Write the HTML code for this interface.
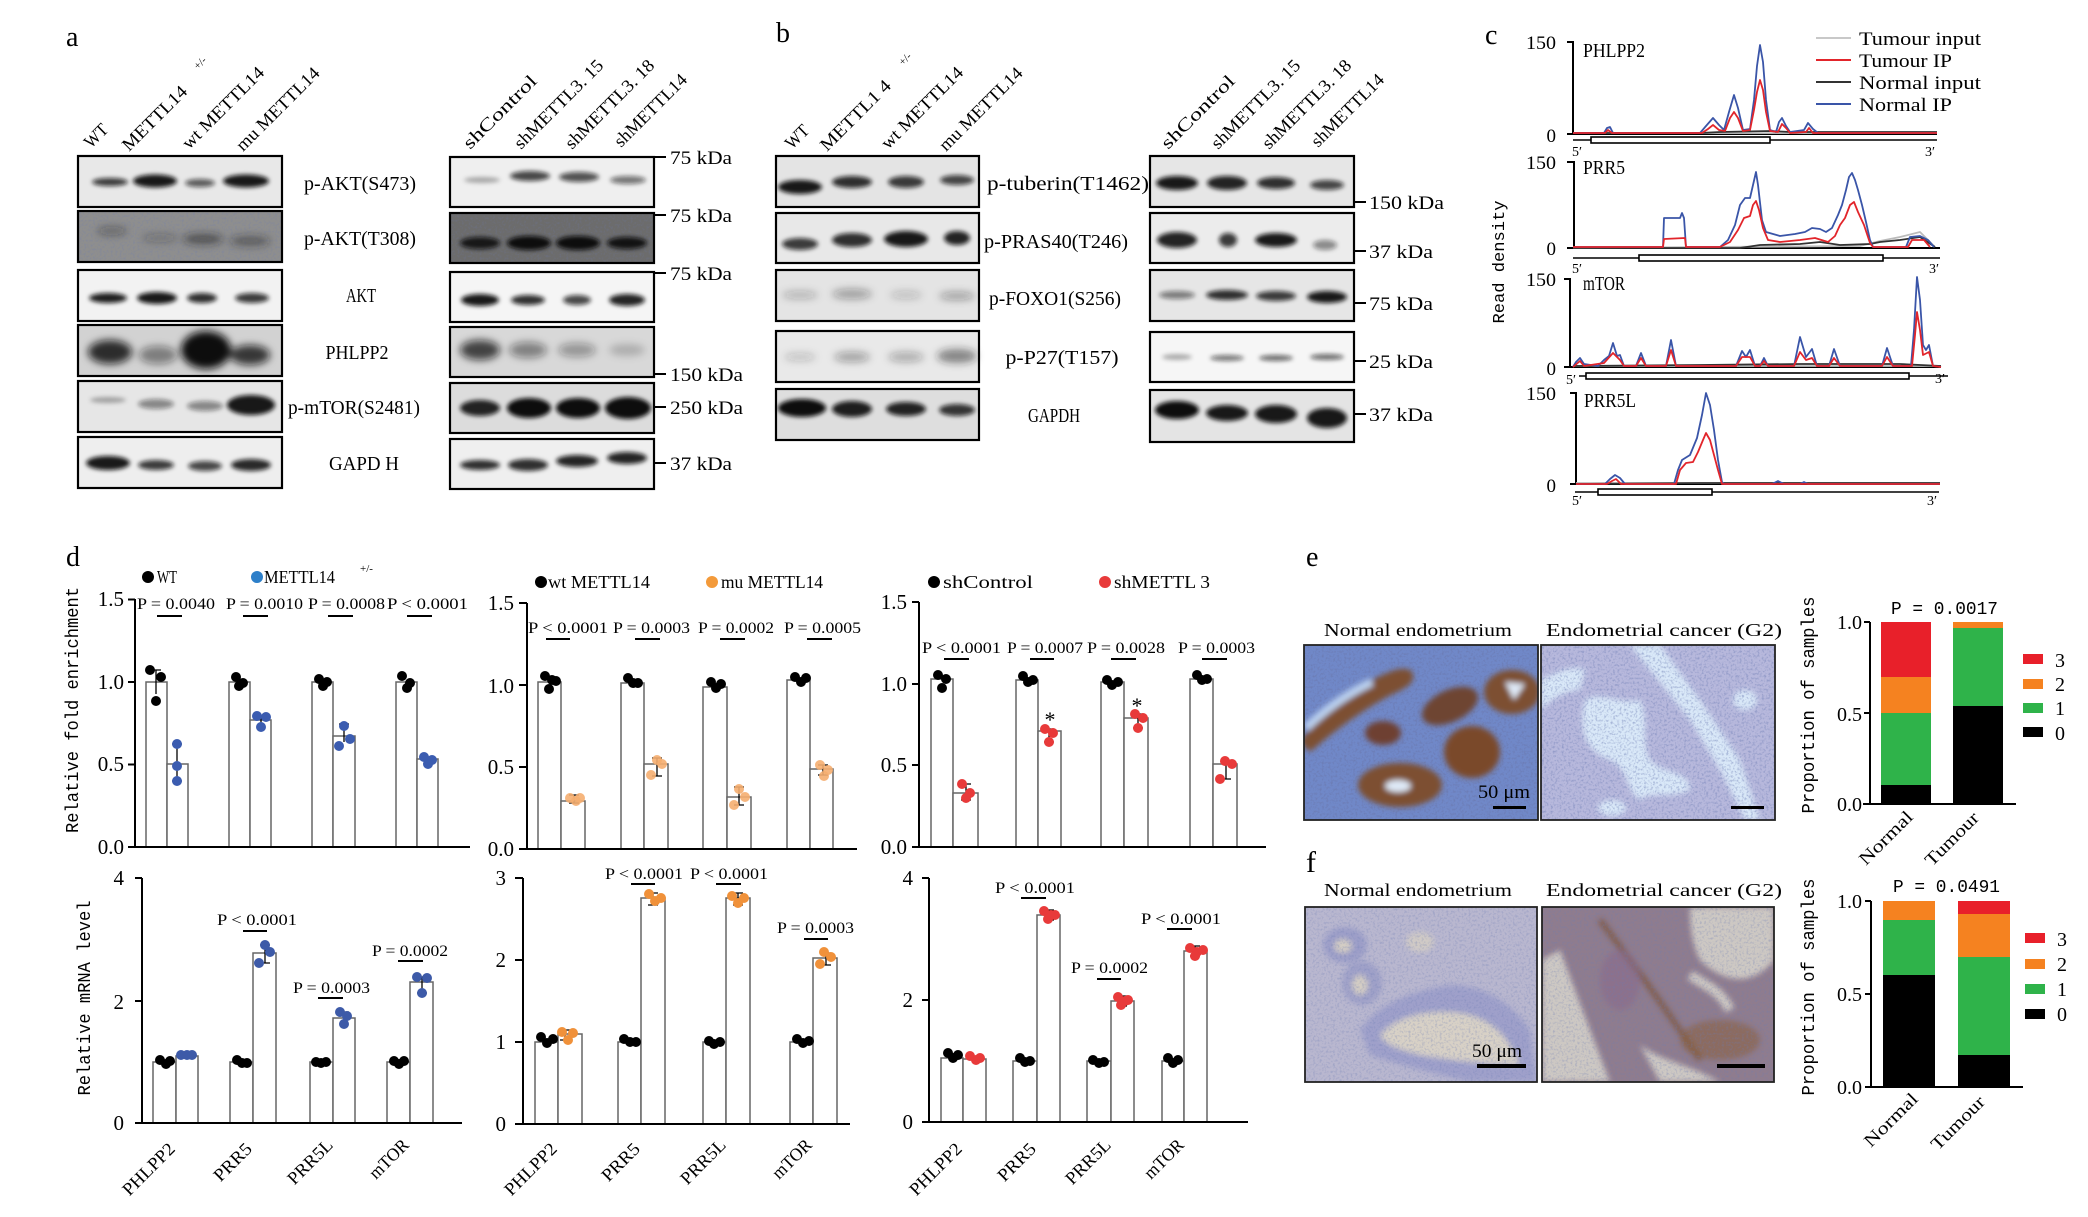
<!DOCTYPE html>
<html><head><meta charset="utf-8">
<style>
html,body{margin:0;padding:0;background:#fff;}
svg{display:block;}
text{font-family:"Liberation Serif","Noto Serif CJK SC",serif;fill:#000;}
.m{font-family:"Liberation Mono","Noto Sans CJK SC",monospace;}
</style></head>
<body>
<svg width="2088" height="1217" viewBox="0 0 2088 1217" xmlns="http://www.w3.org/2000/svg">
<defs>
<filter id="b2" x="-50%" y="-150%" width="200%" height="400%"><feGaussianBlur stdDeviation="2.2"/></filter>
<filter id="b4" x="-50%" y="-150%" width="200%" height="400%"><feGaussianBlur stdDeviation="4"/></filter>
<filter id="h3" x="-20%" y="-20%" width="140%" height="140%"><feGaussianBlur stdDeviation="3"/></filter>
<filter id="nz" x="0" y="0" width="100%" height="100%"><feTurbulence type="fractalNoise" baseFrequency="0.45" numOctaves="2" seed="7"/><feColorMatrix type="matrix" values="0 0 0 0 0.15 0 0 0 0 0.2 0 0 0 0 0.45 0 0 0 -3 1.6"/></filter>
<clipPath id="cL1"><rect x="78" y="156" width="204" height="332"/></clipPath>
</defs>
<rect width="2088" height="1217" fill="#fff"/>

<!-- ===== Panel letters ===== -->
<text x="66" y="46" font-size="28">a</text>
<text x="776" y="42" font-size="28">b</text>
<text x="1485" y="44" font-size="28">c</text>
<text x="66" y="566" font-size="28">d</text>
<text x="1306" y="566" font-size="28">e</text>
<text x="1306" y="872" font-size="30">f</text>

<!-- ===== Panel a lane labels ===== -->
<g font-size="18">
<text transform="translate(91,149) rotate(-45)" textLength="26" lengthAdjust="spacingAndGlyphs">WT</text>
<text transform="translate(129,152) rotate(-45)" textLength="84" lengthAdjust="spacingAndGlyphs">METTL14</text>
<text transform="translate(198,70) rotate(-45)" font-size="11">+/-</text>
<text transform="translate(189,150) rotate(-45)" textLength="108" lengthAdjust="spacingAndGlyphs">wt METTL14</text>
<text transform="translate(243,152) rotate(-45)" textLength="110" lengthAdjust="spacingAndGlyphs">mu METTL14</text>
<text transform="translate(470,150) rotate(-45)" textLength="96" lengthAdjust="spacingAndGlyphs">shControl</text>
<text transform="translate(521,150) rotate(-45)" textLength="118" lengthAdjust="spacingAndGlyphs">shMETTL3. 15</text>
<text transform="translate(572,150) rotate(-45)" textLength="118" lengthAdjust="spacingAndGlyphs">shMETTL3. 18</text>
<text transform="translate(621,148) rotate(-45)" textLength="95" lengthAdjust="spacingAndGlyphs">shMETTL14</text>
</g>

<!-- ===== Panel a left blots ===== -->
<g>
<rect x="78" y="156" width="204" height="51" fill="#e8e8e8"/>
<g filter="url(#b2)" fill="#111">
<ellipse cx="110" cy="182" rx="18" ry="4" opacity=".8"/><ellipse cx="155" cy="181" rx="22" ry="6.5" opacity=".95"/><ellipse cx="200" cy="183" rx="15" ry="4" opacity=".65"/><ellipse cx="246" cy="181" rx="23" ry="6.5" opacity=".95"/>
</g>
<rect x="78" y="211" width="204" height="51" fill="#8e8e8e"/>
<rect x="78" y="211" width="204" height="51" filter="url(#nz)" opacity=".25"/>
<g filter="url(#b4)" fill="#222">
<ellipse cx="112" cy="231" rx="15" ry="4" opacity=".35"/><ellipse cx="160" cy="238" rx="18" ry="4" opacity=".25"/><ellipse cx="203" cy="239" rx="20" ry="5" opacity=".55"/><ellipse cx="250" cy="241" rx="20" ry="5" opacity=".45"/>
</g>
<rect x="78" y="270" width="204" height="51" fill="#f2f2f2"/>
<g filter="url(#b2)" fill="#111">
<ellipse cx="108" cy="298" rx="19" ry="5" opacity=".92"/><ellipse cx="157" cy="298" rx="20" ry="6" opacity=".95"/><ellipse cx="202" cy="298" rx="15" ry="5" opacity=".85"/><ellipse cx="252" cy="298" rx="17" ry="5" opacity=".8"/>
</g>
<rect x="78" y="325" width="204" height="51" fill="#d2d2d2"/>
<g clip-path="url(#cL1)">
<g filter="url(#b4)" fill="#111">
<ellipse cx="110" cy="352" rx="22" ry="12" opacity=".85"/><ellipse cx="158" cy="355" rx="19" ry="9" opacity=".45"/><ellipse cx="206" cy="350" rx="25" ry="19" opacity="1"/><ellipse cx="250" cy="355" rx="20" ry="10" opacity=".8"/>
</g></g>
<rect x="78" y="381" width="204" height="51" fill="#e6e6e6"/>
<g filter="url(#b2)" fill="#111">
<ellipse cx="108" cy="400" rx="18" ry="3" opacity=".3"/><ellipse cx="156" cy="404" rx="18" ry="5" opacity=".45"/><ellipse cx="205" cy="406" rx="18" ry="5" opacity=".45"/><ellipse cx="251" cy="405" rx="24" ry="10" opacity=".95"/>
</g>
<rect x="78" y="437" width="204" height="51" fill="#eeeeee"/>
<g filter="url(#b2)" fill="#111">
<ellipse cx="108" cy="463" rx="22" ry="7" opacity=".95"/><ellipse cx="156" cy="465" rx="18" ry="5" opacity=".8"/><ellipse cx="205" cy="466" rx="17" ry="5" opacity=".75"/><ellipse cx="251" cy="465" rx="20" ry="6" opacity=".88"/>
</g>
<g fill="none" stroke="#000" stroke-width="2.2">
<rect x="78" y="156" width="204" height="51"/><rect x="78" y="211" width="204" height="51"/><rect x="78" y="270" width="204" height="51"/><rect x="78" y="325" width="204" height="51"/><rect x="78" y="381" width="204" height="51"/><rect x="78" y="437" width="204" height="51"/>
</g>
</g>

<!-- a labels -->
<g font-size="20" text-anchor="middle">
<text x="360" y="190" textLength="112" lengthAdjust="spacingAndGlyphs">p-AKT(S473)</text>
<text x="360" y="245" textLength="112" lengthAdjust="spacingAndGlyphs">p-AKT(T308)</text>
<text x="361" y="302" textLength="30" lengthAdjust="spacingAndGlyphs">AKT</text>
<text x="357" y="359" textLength="63" lengthAdjust="spacingAndGlyphs">PHLPP2</text>
<text x="354" y="414" textLength="132" lengthAdjust="spacingAndGlyphs">p-mTOR(S2481)</text>
<text x="364" y="470" textLength="70" lengthAdjust="spacingAndGlyphs">GAPD  H</text>
</g>

<!-- ===== Panel a right blots ===== -->
<g>
<rect x="450" y="157" width="204" height="50" fill="#efefef"/>
<g filter="url(#b2)" fill="#111">
<ellipse cx="482" cy="180" rx="18" ry="3" opacity=".3"/><ellipse cx="530" cy="176" rx="20" ry="5" opacity=".75"/><ellipse cx="579" cy="177" rx="20" ry="5" opacity=".7"/><ellipse cx="628" cy="180" rx="18" ry="4" opacity=".55"/>
</g>
<rect x="450" y="213" width="204" height="50" fill="#6c6c6c"/>
<rect x="450" y="213" width="204" height="50" filter="url(#nz)" opacity=".2"/>
<g filter="url(#b2)" fill="#0a0a0a">
<ellipse cx="480" cy="243" rx="20" ry="6" opacity=".9"/><ellipse cx="529" cy="243" rx="22" ry="7" opacity="1"/><ellipse cx="578" cy="243" rx="22" ry="7" opacity="1"/><ellipse cx="627" cy="243" rx="20" ry="6" opacity=".95"/>
</g>
<rect x="450" y="272" width="204" height="50" fill="#f5f5f5"/>
<g filter="url(#b2)" fill="#111">
<ellipse cx="480" cy="300" rx="19" ry="6" opacity=".95"/><ellipse cx="528" cy="300" rx="17" ry="5" opacity=".85"/><ellipse cx="577" cy="300" rx="14" ry="5" opacity=".75"/><ellipse cx="627" cy="300" rx="18" ry="6" opacity=".9"/>
</g>
<rect x="450" y="327" width="204" height="50" fill="#d8d8d8"/>
<g filter="url(#b4)" fill="#111">
<ellipse cx="480" cy="350" rx="20" ry="10" opacity=".75"/><ellipse cx="528" cy="350" rx="19" ry="8" opacity=".45"/><ellipse cx="577" cy="350" rx="19" ry="7" opacity=".35"/><ellipse cx="627" cy="350" rx="18" ry="6" opacity=".2"/>
</g>
<rect x="450" y="383" width="204" height="50" fill="#dcdcdc"/>
<g filter="url(#b2)" fill="#0a0a0a">
<ellipse cx="480" cy="408" rx="20" ry="8" opacity=".9"/><ellipse cx="529" cy="408" rx="22" ry="10" opacity="1"/><ellipse cx="578" cy="408" rx="22" ry="10" opacity="1"/><ellipse cx="628" cy="408" rx="23" ry="11" opacity="1"/>
</g>
<rect x="450" y="439" width="204" height="50" fill="#efefef"/>
<g filter="url(#b2)" fill="#111">
<ellipse cx="480" cy="465" rx="20" ry="5" opacity=".85"/><ellipse cx="528" cy="465" rx="20" ry="6" opacity=".85"/><ellipse cx="577" cy="461" rx="21" ry="6" opacity=".9"/><ellipse cx="627" cy="458" rx="20" ry="6" opacity=".9"/>
</g>
<g fill="none" stroke="#000" stroke-width="2.2">
<rect x="450" y="157" width="204" height="50"/><rect x="450" y="213" width="204" height="50"/><rect x="450" y="272" width="204" height="50"/><rect x="450" y="327" width="204" height="50"/><rect x="450" y="383" width="204" height="50"/><rect x="450" y="439" width="204" height="50"/>
</g>
<g stroke="#000" stroke-width="2">
<line x1="654" y1="157" x2="666" y2="157"/><line x1="654" y1="215" x2="666" y2="215"/><line x1="654" y1="273" x2="666" y2="273"/><line x1="654" y1="374" x2="666" y2="374"/><line x1="654" y1="407" x2="666" y2="407"/><line x1="654" y1="463" x2="666" y2="463"/>
</g>
<g font-size="19">
<text x="670" y="164" textLength="62" lengthAdjust="spacingAndGlyphs">75 kDa</text>
<text x="670" y="222" textLength="62" lengthAdjust="spacingAndGlyphs">75 kDa</text>
<text x="670" y="280" textLength="62" lengthAdjust="spacingAndGlyphs">75 kDa</text>
<text x="670" y="381" textLength="73" lengthAdjust="spacingAndGlyphs">150 kDa</text>
<text x="670" y="414" textLength="73" lengthAdjust="spacingAndGlyphs">250 kDa</text>
<text x="670" y="470" textLength="62" lengthAdjust="spacingAndGlyphs">37 kDa</text>
</g>
</g>

<!-- ===== Panel b lane labels ===== -->
<g font-size="18">
<text transform="translate(792,150) rotate(-45)" textLength="26" lengthAdjust="spacingAndGlyphs">WT</text>
<text transform="translate(827,152) rotate(-45)" textLength="92" lengthAdjust="spacingAndGlyphs">METTL1  4</text>
<text transform="translate(903,66) rotate(-45)" font-size="11">+/-</text>
<text transform="translate(888,150) rotate(-45)" textLength="108" lengthAdjust="spacingAndGlyphs">wt METTL14</text>
<text transform="translate(946,152) rotate(-45)" textLength="110" lengthAdjust="spacingAndGlyphs">mu METTL14</text>
<text transform="translate(1168,150) rotate(-45)" textLength="96" lengthAdjust="spacingAndGlyphs">shControl</text>
<text transform="translate(1218,150) rotate(-45)" textLength="118" lengthAdjust="spacingAndGlyphs">shMETTL3. 15</text>
<text transform="translate(1269,150) rotate(-45)" textLength="118" lengthAdjust="spacingAndGlyphs">shMETTL3. 18</text>
<text transform="translate(1318,148) rotate(-45)" textLength="95" lengthAdjust="spacingAndGlyphs">shMETTL14</text>
</g>

<!-- ===== Panel b left blots ===== -->
<g>
<rect x="776" y="156" width="203" height="51" fill="#e4e4e4"/>
<g filter="url(#b2)" fill="#111">
<ellipse cx="800" cy="187" rx="22" ry="7" opacity=".95"/><ellipse cx="852" cy="182" rx="20" ry="6" opacity=".85"/><ellipse cx="906" cy="182" rx="18" ry="6" opacity=".8"/><ellipse cx="957" cy="180" rx="17" ry="5" opacity=".75"/>
</g>
<rect x="776" y="213" width="203" height="50" fill="#e8e8e8"/>
<g filter="url(#b2)" fill="#111">
<ellipse cx="800" cy="244" rx="18" ry="6" opacity=".8"/><ellipse cx="852" cy="240" rx="20" ry="7" opacity=".85"/><ellipse cx="906" cy="239" rx="22" ry="8" opacity=".95"/><ellipse cx="957" cy="238" rx="13" ry="7" opacity=".9"/>
</g>
<rect x="776" y="270" width="203" height="51" fill="#e4e4e4"/>
<g filter="url(#b4)" fill="#222">
<ellipse cx="800" cy="295" rx="18" ry="4" opacity=".25"/><ellipse cx="852" cy="294" rx="20" ry="5" opacity=".35"/><ellipse cx="906" cy="295" rx="16" ry="4" opacity=".2"/><ellipse cx="957" cy="296" rx="18" ry="4" opacity=".35"/>
</g>
<rect x="776" y="331" width="203" height="51" fill="#e9e9e9"/>
<g filter="url(#b4)" fill="#222">
<ellipse cx="800" cy="357" rx="16" ry="4" opacity=".2"/><ellipse cx="852" cy="357" rx="18" ry="5" opacity=".35"/><ellipse cx="906" cy="357" rx="18" ry="5" opacity=".3"/><ellipse cx="957" cy="356" rx="20" ry="7" opacity=".5"/>
</g>
<rect x="776" y="389" width="203" height="51" fill="#dedede"/>
<g filter="url(#b2)" fill="#0a0a0a">
<ellipse cx="802" cy="408" rx="24" ry="9" opacity="1"/><ellipse cx="852" cy="409" rx="20" ry="8" opacity=".92"/><ellipse cx="906" cy="409" rx="20" ry="7" opacity=".9"/><ellipse cx="957" cy="410" rx="18" ry="6" opacity=".82"/>
</g>
<g fill="none" stroke="#000" stroke-width="2.2">
<rect x="776" y="156" width="203" height="51"/><rect x="776" y="213" width="203" height="50"/><rect x="776" y="270" width="203" height="51"/><rect x="776" y="331" width="203" height="51"/><rect x="776" y="389" width="203" height="51"/>
</g>
</g>
<g font-size="20" text-anchor="middle">
<text x="1068" y="190" textLength="162" lengthAdjust="spacingAndGlyphs">p-tuberin(T1462)</text>
<text x="1056" y="248" textLength="144" lengthAdjust="spacingAndGlyphs">p-PRAS40(T246)</text>
<text x="1055" y="305" textLength="132" lengthAdjust="spacingAndGlyphs">p-FOXO1(S256)</text>
<text x="1062" y="364" textLength="113" lengthAdjust="spacingAndGlyphs">p-P27(T157)</text>
<text x="1054" y="422" textLength="52" lengthAdjust="spacingAndGlyphs">GAPDH</text>
</g>

<!-- ===== Panel b right blots ===== -->
<g>
<rect x="1150" y="156" width="204" height="51" fill="#e6e6e6"/>
<g filter="url(#b2)" fill="#111">
<ellipse cx="1177" cy="183" rx="21" ry="7" opacity=".95"/><ellipse cx="1227" cy="183" rx="20" ry="7" opacity=".9"/><ellipse cx="1276" cy="183" rx="19" ry="6" opacity=".85"/><ellipse cx="1327" cy="185" rx="17" ry="5" opacity=".75"/>
</g>
<rect x="1150" y="213" width="204" height="50" fill="#ececec"/>
<g filter="url(#b2)" fill="#111">
<ellipse cx="1177" cy="240" rx="20" ry="8" opacity=".9"/><ellipse cx="1228" cy="240" rx="9" ry="7" opacity=".8"/><ellipse cx="1276" cy="240" rx="21" ry="7" opacity=".95"/><ellipse cx="1325" cy="245" rx="12" ry="5" opacity=".45"/>
</g>
<rect x="1150" y="270" width="204" height="51" fill="#e6e6e6"/>
<g filter="url(#b2)" fill="#111">
<ellipse cx="1177" cy="295" rx="18" ry="4" opacity=".5"/><ellipse cx="1227" cy="295" rx="21" ry="5" opacity=".85"/><ellipse cx="1276" cy="296" rx="20" ry="5" opacity=".8"/><ellipse cx="1327" cy="297" rx="20" ry="6" opacity=".95"/>
</g>
<rect x="1150" y="332" width="204" height="50" fill="#f6f6f6"/>
<g filter="url(#b2)" fill="#111">
<ellipse cx="1177" cy="357" rx="15" ry="3" opacity=".3"/><ellipse cx="1227" cy="358" rx="17" ry="3" opacity=".55"/><ellipse cx="1276" cy="358" rx="17" ry="3" opacity=".6"/><ellipse cx="1327" cy="357" rx="17" ry="3" opacity=".6"/>
</g>
<rect x="1150" y="390" width="204" height="52" fill="#e4e4e4"/>
<g filter="url(#b2)" fill="#0a0a0a">
<ellipse cx="1177" cy="410" rx="22" ry="9" opacity="1"/><ellipse cx="1227" cy="413" rx="21" ry="8" opacity=".95"/><ellipse cx="1276" cy="414" rx="21" ry="9" opacity=".95"/><ellipse cx="1327" cy="418" rx="20" ry="10" opacity=".95"/>
</g>
<g fill="none" stroke="#000" stroke-width="2.2">
<rect x="1150" y="156" width="204" height="51"/><rect x="1150" y="213" width="204" height="50"/><rect x="1150" y="270" width="204" height="51"/><rect x="1150" y="332" width="204" height="50"/><rect x="1150" y="390" width="204" height="52"/>
</g>
<g stroke="#000" stroke-width="2">
<line x1="1354" y1="202" x2="1366" y2="202"/><line x1="1354" y1="251" x2="1366" y2="251"/><line x1="1354" y1="303" x2="1366" y2="303"/><line x1="1354" y1="361" x2="1366" y2="361"/><line x1="1354" y1="414" x2="1366" y2="414"/>
</g>
<g font-size="19">
<text x="1369" y="209" textLength="75" lengthAdjust="spacingAndGlyphs">150 kDa</text>
<text x="1369" y="258" textLength="64" lengthAdjust="spacingAndGlyphs">37 kDa</text>
<text x="1369" y="310" textLength="64" lengthAdjust="spacingAndGlyphs">75 kDa</text>
<text x="1369" y="368" textLength="64" lengthAdjust="spacingAndGlyphs">25 kDa</text>
<text x="1369" y="421" textLength="64" lengthAdjust="spacingAndGlyphs">37 kDa</text>
</g>
</g>

<!-- ===== Panel c ===== -->
<text transform="translate(1504,262) rotate(-90)" text-anchor="middle" font-size="17" class="m" textLength="123" lengthAdjust="spacingAndGlyphs">Read density</text>
<g font-size="19" text-anchor="end">
<text x="1556" y="49" textLength="30" lengthAdjust="spacingAndGlyphs">150</text><text x="1556" y="142">0</text>
<text x="1556" y="169" textLength="30" lengthAdjust="spacingAndGlyphs">150</text><text x="1556" y="255">0</text>
<text x="1556" y="286" textLength="30" lengthAdjust="spacingAndGlyphs">150</text><text x="1556" y="375">0</text>
<text x="1556" y="400" textLength="30" lengthAdjust="spacingAndGlyphs">150</text><text x="1556" y="492">0</text>
</g>
<g font-size="20">
<text x="1583" y="57" textLength="62" lengthAdjust="spacingAndGlyphs">PHLPP2</text>
<text x="1583" y="174" textLength="42" lengthAdjust="spacingAndGlyphs">PRR5</text>
<text x="1583" y="290" textLength="42" lengthAdjust="spacingAndGlyphs">mTOR</text>
<text x="1584" y="407" textLength="52" lengthAdjust="spacingAndGlyphs">PRR5L</text>
</g>
<g font-size="14">
<text x="1572" y="156">5′</text><text x="1925" y="156">3′</text>
<text x="1572" y="273">5′</text><text x="1929" y="273">3′</text>
<text x="1566" y="384">5′</text><text x="1935" y="383">3′</text>
<text x="1572" y="505">5′</text><text x="1927" y="505">3′</text>
</g>
<!-- axes -->
<g stroke="#000" stroke-width="2" fill="none">
<path d="M1567,42 H1573 V134 M1567,134 H1937"/>
<path d="M1567,162 H1574 V248 M1567,248 H1940"/>
<path d="M1564,279 H1570 V367 M1564,367 H1941"/>
<path d="M1570,393 H1576 V484 M1570,484 H1940"/>
</g>
<!-- gene structures -->
<g stroke="#000" stroke-width="1.6" fill="#fff">
<line x1="1573" y1="140" x2="1937" y2="140"/><rect x="1591" y="137" width="179" height="6"/>
<line x1="1573" y1="258" x2="1940" y2="258"/><rect x="1639" y="255" width="244" height="6"/>
<line x1="1579" y1="376" x2="1948" y2="376"/><rect x="1586" y="373" width="323" height="6"/>
<line x1="1575" y1="492" x2="1939" y2="492"/><rect x="1598" y="489" width="114" height="6"/>
</g>
<!-- traces -->
<g fill="none" stroke-width="1.8" stroke-linejoin="round">
<path stroke="#c8c8c8" d="M1573,133 H1937"/>
<path stroke="#333" d="M1573,133 H1700 L1720,132 L1770,131 L1790,132 H1937"/>
<path stroke="#3a55a8" d="M1573,133 L1604,133 L1607,128 L1610,127 L1613,133 L1700,133 L1706,126 L1713,118 L1719,125 L1724,130 L1729,112 L1734,95 L1738,108 L1743,130 L1750,129 L1754,100 L1757,66 L1760,45 L1763,62 L1766,100 L1770,130 L1776,132 L1779,122 L1782,118 L1786,126 L1790,132 L1804,130 L1808,123 L1813,129 L1818,133 L1937,133"/>
<path stroke="#e2252b" d="M1573,133 L1605,133 L1608,130 L1612,133 L1702,133 L1708,129 L1713,125 L1719,130 L1725,131 L1730,118 L1734,112 L1738,118 L1743,131 L1750,130 L1754,110 L1757,92 L1760,80 L1763,90 L1766,112 L1770,131 L1778,132 L1782,124 L1786,128 L1790,133 L1806,132 L1809,128 L1813,133 L1937,133"/>
<path stroke="#bbb" d="M1573,248 L1860,246 L1880,241 L1900,237 L1920,232 L1935,247"/>
<path stroke="#333" d="M1573,248 L1740,248 L1760,245 L1800,244 L1820,242 L1840,245 L1870,244 L1880,242 L1900,240 L1920,237 L1935,247"/>
<path stroke="#3a55a8" d="M1573,247 L1663,247 L1664,218 L1680,218 L1682,213 L1684,218 L1686,247 L1720,247 L1728,240 L1735,225 L1740,205 L1745,198 L1750,198 L1753,185 L1756,172 L1758,185 L1762,220 L1766,232 L1780,236 L1795,234 L1805,232 L1812,228 L1820,229 L1826,232 L1832,228 L1838,215 L1842,205 L1846,190 L1849,177 L1852,173 L1855,180 L1858,190 L1862,205 L1866,222 L1870,240 L1873,247 L1906,247 L1910,237 L1920,236 L1928,240 L1934,247"/>
<path stroke="#e2252b" d="M1573,247 L1663,247 L1664,239 L1685,238 L1686,247 L1720,247 L1730,242 L1738,230 L1744,218 L1750,216 L1753,205 L1756,201 L1759,210 L1763,228 L1768,240 L1780,242 L1800,240 L1815,238 L1828,242 L1835,236 L1840,225 L1845,218 L1850,205 L1854,202 L1858,212 L1864,225 L1870,243 L1873,247 L1908,247 L1912,240 L1924,240 L1930,247"/>
<path stroke="#bbb" d="M1573,366 H1941"/>
<path stroke="#333" d="M1573,366 L1700,365 L1800,364 L1900,364 L1941,366"/>
<path stroke="#3a55a8" d="M1573,367 L1576,362 L1580,358 L1584,364 L1598,366 L1604,360 L1609,356 L1613,343 L1617,356 L1620,355 L1624,366 L1636,366 L1641,353 L1646,366 L1666,366 L1671,340 L1676,366 L1736,366 L1742,351 L1746,357 L1750,350 L1755,366 L1760,366 L1764,358 L1768,366 L1794,366 L1800,337 L1806,357 L1812,349 L1817,366 L1829,366 L1834,349 L1840,366 L1882,366 L1887,348 L1893,366 L1911,366 L1914,330 L1917,277 L1920,300 L1923,345 L1926,350 L1929,345 L1933,366 L1941,367"/>
<path stroke="#e2252b" d="M1573,367 L1580,361 L1584,366 L1604,363 L1613,353 L1620,360 L1624,366 L1636,366 L1641,358 L1646,366 L1666,366 L1671,350 L1676,366 L1736,366 L1742,357 L1750,357 L1755,366 L1760,366 L1764,361 L1768,366 L1794,366 L1800,352 L1806,360 L1812,358 L1817,366 L1829,366 L1834,358 L1840,366 L1882,366 L1887,357 L1893,366 L1912,366 L1915,335 L1917,312 L1920,330 L1923,355 L1929,352 L1933,366 L1941,367"/>
<path stroke="#bbb" d="M1576,483 H1940"/>
<path stroke="#333" d="M1576,484 L1700,483 L1800,483 H1940"/>
<path stroke="#3a55a8" d="M1576,484 L1605,484 L1610,479 L1615,475 L1620,478 L1625,484 L1674,484 L1678,470 L1682,460 L1690,455 L1697,438 L1702,415 L1706,393 L1710,405 L1714,430 L1718,460 L1722,482 L1724,484 L1772,484 L1778,481 L1784,484 L1800,484 L1804,482 L1808,484 L1940,484"/>
<path stroke="#e2252b" d="M1576,484 L1607,484 L1612,481 L1616,479 L1621,484 L1676,484 L1680,470 L1686,463 L1693,462 L1698,452 L1703,440 L1706,433 L1710,440 L1714,455 L1718,470 L1722,484 L1940,484"/>
</g>
<!-- c legend -->
<g stroke-width="2">
<line x1="1816" y1="38" x2="1851" y2="38" stroke="#c8c8c8"/>
<line x1="1816" y1="60" x2="1851" y2="60" stroke="#e2252b"/>
<line x1="1816" y1="82" x2="1851" y2="82" stroke="#333"/>
<line x1="1816" y1="104" x2="1851" y2="104" stroke="#3a55a8"/>
</g>
<g font-size="19">
<text x="1859" y="45" textLength="122" lengthAdjust="spacingAndGlyphs">Tumour input</text>
<text x="1859" y="67" textLength="93" lengthAdjust="spacingAndGlyphs">Tumour IP</text>
<text x="1859" y="89" textLength="122" lengthAdjust="spacingAndGlyphs">Normal input</text>
<text x="1859" y="111" textLength="93" lengthAdjust="spacingAndGlyphs">Normal IP</text>
</g>

<!-- ===== Panel d ===== -->
<circle cx="148" cy="577" r="6" fill="#000"/><text x="157" y="583" font-size="18" textLength="20" lengthAdjust="spacingAndGlyphs">WT</text>
<circle cx="257" cy="577" r="6" fill="#2d7fc9"/><text x="264" y="583" font-size="18" textLength="71" lengthAdjust="spacingAndGlyphs">METTL14</text>
<text x="360" y="572" font-size="11">+/-</text>
<circle cx="541" cy="582" r="6" fill="#000"/><text x="548" y="588" font-size="18" textLength="102" lengthAdjust="spacingAndGlyphs">wt METTL14</text>
<circle cx="712" cy="582" r="6" fill="#f39a3a"/><text x="721" y="588" font-size="18" textLength="102" lengthAdjust="spacingAndGlyphs">mu METTL14</text>
<circle cx="934" cy="582" r="6" fill="#000"/><text x="943" y="588" font-size="18" textLength="90" lengthAdjust="spacingAndGlyphs">shControl</text>
<circle cx="1105" cy="582" r="6" fill="#e83a3a"/><text x="1114" y="588" font-size="18" textLength="96" lengthAdjust="spacingAndGlyphs">shMETTL  3</text>

<text transform="translate(78,710) rotate(-90)" text-anchor="middle" font-size="18" class="m" textLength="246" lengthAdjust="spacingAndGlyphs">Relative fold enrichment</text>
<text transform="translate(90,998) rotate(-90)" text-anchor="middle" font-size="18" class="m" textLength="195" lengthAdjust="spacingAndGlyphs">Relative mRNA level</text>

<!-- d1 top -->
<g>
<g font-size="21" text-anchor="end">
<text x="124" y="606">1.5</text><text x="124" y="689">1.0</text><text x="124" y="771">0.5</text><text x="124" y="854">0.0</text>
</g>
<g fill="#fff" stroke="#666" stroke-width="1.5">
<rect x="146" y="682" width="21" height="165"/><rect x="167" y="764" width="21" height="83"/>
<rect x="229" y="682" width="21" height="165"/><rect x="250" y="720" width="21" height="127"/>
<rect x="312" y="682" width="21" height="165"/><rect x="333" y="736" width="22" height="111"/>
<rect x="396" y="682" width="21" height="165"/><rect x="417" y="759" width="21" height="88"/>
</g>
<g stroke="#000" stroke-width="2" fill="none">
<path d="M135,599 V847 M128,847 H470 M128,599.5 H135 M128,682 H135 M128,764.5 H135"/>
<path d="M157,616 H182 M243,616 H268 M328,616 H353 M407,616 H432"/>
</g>
<g stroke="#000" stroke-width="1.3"><path d="M177,744 V781 M172,744 H182 M172,781 H182 M261,716 V727 M256,716 H266 M344,724 V742 M339,724 H349 M428,757 V763 M423,757 H433 M156,670 V694 M151,670 H161"/></g>
<g fill="#000"><circle cx="150" cy="670" r="5"/><circle cx="161" cy="677" r="5"/><circle cx="156" cy="701" r="5"/>
<circle cx="236" cy="677" r="5"/><circle cx="239" cy="686" r="5"/><circle cx="243" cy="683" r="5"/>
<circle cx="319" cy="679" r="5"/><circle cx="323" cy="686" r="5"/><circle cx="327" cy="682" r="5"/>
<circle cx="402" cy="676" r="5"/><circle cx="407" cy="688" r="5"/><circle cx="410" cy="683" r="5"/></g>
<g fill="#3b5cb0"><circle cx="177" cy="744" r="5"/><circle cx="177" cy="766" r="5"/><circle cx="177" cy="781" r="5"/>
<circle cx="257" cy="716" r="5"/><circle cx="266" cy="717" r="5"/><circle cx="261" cy="727" r="5"/>
<circle cx="344" cy="726" r="5"/><circle cx="339" cy="746" r="5"/><circle cx="350" cy="739" r="5"/>
<circle cx="424" cy="757" r="5"/><circle cx="428" cy="764" r="5"/><circle cx="432" cy="760" r="5"/></g>
<g font-size="16">
<text x="137" y="609" textLength="78" lengthAdjust="spacingAndGlyphs">P = 0.0040</text>
<text x="226" y="609" textLength="77" lengthAdjust="spacingAndGlyphs">P = 0.0010</text>
<text x="308" y="609" textLength="77" lengthAdjust="spacingAndGlyphs">P = 0.0008</text>
<text x="387" y="609" textLength="81" lengthAdjust="spacingAndGlyphs">P &lt; 0.0001</text>
</g>
</g>

<!-- d1 bottom -->
<g>
<g font-size="21" text-anchor="end"><text x="124" y="885">4</text><text x="124" y="1009">2</text><text x="124" y="1130">0</text></g>
<g fill="#fff" stroke="#666" stroke-width="1.5">
<rect x="153" y="1062" width="23" height="61"/><rect x="176" y="1056" width="22" height="67"/>
<rect x="230" y="1062" width="23" height="61"/><rect x="253" y="953" width="23" height="170"/>
<rect x="310" y="1062" width="23" height="61"/><rect x="333" y="1018" width="22" height="105"/>
<rect x="387" y="1062" width="23" height="61"/><rect x="410" y="982" width="23" height="141"/>
</g>
<g stroke="#000" stroke-width="2" fill="none">
<path d="M142,878 V1123 M135,1123 H462 M135,878 H142 M135,1001 H142"/>
<path d="M243,931 H267 M318,998 H343 M398,961 H423"/>
</g>
<g stroke="#000" stroke-width="1.3"><path d="M265,945 V963 M260,945 H270 M260,963 H270 M344,1012 V1024 M339,1012 H349 M422,977 V993 M417,977 H427 M417,993 H427"/></g>
<g fill="#000"><circle cx="160" cy="1060" r="5"/><circle cx="166" cy="1064" r="5"/><circle cx="170" cy="1061" r="5"/>
<circle cx="237" cy="1060" r="5"/><circle cx="242" cy="1063" r="5"/><circle cx="247" cy="1063" r="5"/>
<circle cx="316" cy="1062" r="5"/><circle cx="321" cy="1063" r="5"/><circle cx="326" cy="1062" r="5"/>
<circle cx="394" cy="1061" r="5"/><circle cx="399" cy="1064" r="5"/><circle cx="404" cy="1061" r="5"/></g>
<g fill="#3d5aa8"><circle cx="181" cy="1055" r="5"/><circle cx="187" cy="1055" r="5"/><circle cx="192" cy="1055" r="5"/>
<circle cx="265" cy="945" r="5"/><circle cx="270" cy="952" r="5"/><circle cx="259" cy="963" r="5"/>
<circle cx="340" cy="1012" r="5"/><circle cx="347" cy="1016" r="5"/><circle cx="344" cy="1024" r="5"/>
<circle cx="417" cy="977" r="5"/><circle cx="427" cy="978" r="5"/><circle cx="422" cy="993" r="5"/></g>
<g font-size="16">
<text x="217" y="925" textLength="80" lengthAdjust="spacingAndGlyphs">P &lt; 0.0001</text>
<text x="293" y="993" textLength="77" lengthAdjust="spacingAndGlyphs">P = 0.0003</text>
<text x="372" y="956" textLength="76" lengthAdjust="spacingAndGlyphs">P = 0.0002</text>
</g>
<g font-size="18" text-anchor="end">
<text transform="translate(176,1150) rotate(-45)" textLength="66" lengthAdjust="spacingAndGlyphs">PHLPP2</text>
<text transform="translate(253,1150) rotate(-45)" textLength="46" lengthAdjust="spacingAndGlyphs">PRR5</text>
<text transform="translate(334,1146) rotate(-45)" textLength="56" lengthAdjust="spacingAndGlyphs">PRR5L</text>
<text transform="translate(410,1146) rotate(-45)" textLength="48" lengthAdjust="spacingAndGlyphs">mTOR</text>
</g>
</g>

<!-- d2 top -->
<g>
<g font-size="21" text-anchor="end">
<text x="514" y="610">1.5</text><text x="514" y="693">1.0</text><text x="514" y="774">0.5</text><text x="514" y="856">0.0</text>
</g>
<g fill="#fff" stroke="#666" stroke-width="1.5">
<rect x="538" y="682" width="23" height="167"/><rect x="561" y="801" width="24" height="48"/>
<rect x="621" y="683" width="23" height="166"/><rect x="644" y="764" width="24" height="85"/>
<rect x="703" y="687" width="24" height="162"/><rect x="727" y="797" width="24" height="52"/>
<rect x="787" y="680" width="23" height="169"/><rect x="810" y="769" width="23" height="80"/>
</g>
<g stroke="#000" stroke-width="2" fill="none">
<path d="M527,603 V849 M519,849 H857 M519,603 H527 M519,685 H527 M519,767 H527"/>
<path d="M546,639 H570 M635,639 H660 M720,639 H745 M807,639 H832"/>
</g>
<g stroke="#000" stroke-width="1.3"><path d="M574,795 V803 M569,795 H579 M569,803 H579 M657,758 V776 M652,758 H662 M652,776 H662 M739,787 V805 M734,787 H744 M734,805 H744 M823,765 V775 M818,765 H828 M818,775 H828"/></g>
<g fill="#000"><circle cx="545" cy="676" r="5"/><circle cx="552" cy="680" r="5"/><circle cx="549" cy="689" r="5"/><circle cx="556" cy="681" r="5"/>
<circle cx="628" cy="678" r="5"/><circle cx="633" cy="683" r="5"/><circle cx="638" cy="683" r="5"/>
<circle cx="711" cy="682" r="5"/><circle cx="716" cy="688" r="5"/><circle cx="721" cy="684" r="5"/>
<circle cx="795" cy="677" r="5"/><circle cx="801" cy="682" r="5"/><circle cx="806" cy="678" r="5"/></g>
<g fill="#f5ae70" fill-opacity=".9"><circle cx="570" cy="798" r="5"/><circle cx="576" cy="801" r="5"/><circle cx="580" cy="798" r="5"/>
<circle cx="657" cy="760" r="5"/><circle cx="662" cy="764" r="5"/><circle cx="651" cy="775" r="5"/>
<circle cx="739" cy="789" r="5"/><circle cx="745" cy="797" r="5"/><circle cx="734" cy="805" r="5"/>
<circle cx="820" cy="765" r="5"/><circle cx="828" cy="770" r="5"/><circle cx="824" cy="776" r="5"/></g>
<g font-size="16">
<text x="528" y="633" textLength="80" lengthAdjust="spacingAndGlyphs">P &lt; 0.0001</text>
<text x="613" y="633" textLength="77" lengthAdjust="spacingAndGlyphs">P = 0.0003</text>
<text x="698" y="633" textLength="76" lengthAdjust="spacingAndGlyphs">P = 0.0002</text>
<text x="784" y="633" textLength="77" lengthAdjust="spacingAndGlyphs">P = 0.0005</text>
</g>
</g>

<!-- d2 bottom -->
<g>
<g font-size="21" text-anchor="end"><text x="506" y="885">3</text><text x="506" y="967">2</text><text x="506" y="1049">1</text><text x="506" y="1131">0</text></g>
<g fill="#fff" stroke="#666" stroke-width="1.5">
<rect x="535" y="1042" width="23" height="82"/><rect x="558" y="1034" width="24" height="90"/>
<rect x="618" y="1042" width="23" height="82"/><rect x="641" y="898" width="24" height="226"/>
<rect x="703" y="1042" width="23" height="82"/><rect x="726" y="898" width="24" height="226"/>
<rect x="790" y="1042" width="23" height="82"/><rect x="813" y="958" width="24" height="166"/>
</g>
<g stroke="#000" stroke-width="2" fill="none">
<path d="M523,878 V1124 M515,1124 H850 M515,878 H523 M515,960 H523 M515,1042 H523"/>
<path d="M631,884 H655 M716,884 H741 M804,939 H828"/>
</g>
<g stroke="#000" stroke-width="1.3"><path d="M653,893 V905 M648,893 H658 M648,905 H658 M738,893 V905 M733,893 H743 M733,905 H743 M826,953 V965 M821,953 H831 M821,965 H831 M565,1030 V1040 M560,1030 H570 M560,1040 H570"/></g>
<g fill="#000"><circle cx="541" cy="1037" r="5"/><circle cx="547" cy="1043" r="5"/><circle cx="553" cy="1039" r="5"/>
<circle cx="624" cy="1039" r="5"/><circle cx="630" cy="1042" r="5"/><circle cx="636" cy="1042" r="5"/>
<circle cx="709" cy="1041" r="5"/><circle cx="714" cy="1044" r="5"/><circle cx="720" cy="1042" r="5"/>
<circle cx="797" cy="1039" r="5"/><circle cx="803" cy="1043" r="5"/><circle cx="809" cy="1041" r="5"/></g>
<g fill="#f0913a"><circle cx="562" cy="1032" r="5"/><circle cx="568" cy="1040" r="5"/><circle cx="573" cy="1033" r="5"/>
<circle cx="649" cy="894" r="5"/><circle cx="655" cy="901" r="5"/><circle cx="661" cy="898" r="5"/>
<circle cx="732" cy="896" r="5"/><circle cx="738" cy="903" r="5"/><circle cx="744" cy="898" r="5"/>
<circle cx="824" cy="952" r="5"/><circle cx="831" cy="957" r="5"/><circle cx="820" cy="964" r="5"/></g>
<g font-size="16">
<text x="605" y="879" textLength="78" lengthAdjust="spacingAndGlyphs">P &lt; 0.0001</text>
<text x="690" y="879" textLength="78" lengthAdjust="spacingAndGlyphs">P &lt; 0.0001</text>
<text x="777" y="933" textLength="77" lengthAdjust="spacingAndGlyphs">P = 0.0003</text>
</g>
<g font-size="18" text-anchor="end">
<text transform="translate(558,1150) rotate(-45)" textLength="66" lengthAdjust="spacingAndGlyphs">PHLPP2</text>
<text transform="translate(641,1150) rotate(-45)" textLength="46" lengthAdjust="spacingAndGlyphs">PRR5</text>
<text transform="translate(727,1146) rotate(-45)" textLength="56" lengthAdjust="spacingAndGlyphs">PRR5L</text>
<text transform="translate(813,1146) rotate(-45)" textLength="48" lengthAdjust="spacingAndGlyphs">mTOR</text>
</g>
</g>

<!-- d3 top -->
<g>
<g font-size="21" text-anchor="end">
<text x="907" y="609">1.5</text><text x="907" y="691">1.0</text><text x="907" y="772">0.5</text><text x="907" y="854">0.0</text>
</g>
<g fill="#fff" stroke="#666" stroke-width="1.5">
<rect x="931" y="679" width="22" height="168"/><rect x="953" y="793" width="25" height="54"/>
<rect x="1016" y="680" width="22" height="167"/><rect x="1038" y="731" width="23" height="116"/>
<rect x="1101" y="682" width="23" height="165"/><rect x="1124" y="718" width="24" height="129"/>
<rect x="1190" y="679" width="23" height="168"/><rect x="1213" y="764" width="24" height="83"/>
</g>
<g stroke="#000" stroke-width="2" fill="none">
<path d="M919,602 V847 M912,847 H1266 M912,602 H919 M912,684 H919 M912,765 H919"/>
<path d="M944,659 H969 M1030,659 H1054 M1111,659 H1136 M1202,659 H1227"/>
</g>
<g stroke="#000" stroke-width="1.3"><path d="M966,784 V800 M961,784 H971 M961,800 H971 M1049,729 V742 M1044,729 H1054 M1044,742 H1054 M1138,714 V728 M1133,714 H1143 M1133,728 H1143 M1226,761 V779 M1221,761 H1231 M1221,779 H1231"/></g>
<g fill="#000"><circle cx="938" cy="675" r="5"/><circle cx="946" cy="679" r="5"/><circle cx="942" cy="688" r="5"/>
<circle cx="1023" cy="676" r="5"/><circle cx="1028" cy="682" r="5"/><circle cx="1033" cy="680" r="5"/>
<circle cx="1107" cy="680" r="5"/><circle cx="1112" cy="685" r="5"/><circle cx="1118" cy="682" r="5"/>
<circle cx="1197" cy="675" r="5"/><circle cx="1202" cy="680" r="5"/><circle cx="1207" cy="679" r="5"/></g>
<g fill="#e83a3a"><circle cx="962" cy="784" r="5"/><circle cx="970" cy="793" r="5"/><circle cx="966" cy="798" r="5"/>
<circle cx="1045" cy="729" r="5"/><circle cx="1053" cy="733" r="5"/><circle cx="1049" cy="742" r="5"/>
<circle cx="1135" cy="714" r="5"/><circle cx="1143" cy="718" r="5"/><circle cx="1138" cy="728" r="5"/>
<circle cx="1225" cy="761" r="5"/><circle cx="1232" cy="764" r="5"/><circle cx="1220" cy="779" r="5"/></g>
<g font-size="22" text-anchor="middle"><text x="1050" y="727">*</text><text x="1137" y="713">*</text></g>
<g font-size="16">
<text x="922" y="653" textLength="79" lengthAdjust="spacingAndGlyphs">P &lt; 0.0001</text>
<text x="1007" y="653" textLength="76" lengthAdjust="spacingAndGlyphs">P = 0.0007</text>
<text x="1087" y="653" textLength="78" lengthAdjust="spacingAndGlyphs">P = 0.0028</text>
<text x="1178" y="653" textLength="77" lengthAdjust="spacingAndGlyphs">P = 0.0003</text>
</g>
</g>

<!-- d3 bottom -->
<g>
<g font-size="21" text-anchor="end"><text x="913" y="885">4</text><text x="913" y="1007">2</text><text x="913" y="1129">0</text></g>
<g fill="#fff" stroke="#666" stroke-width="1.5">
<rect x="941" y="1058" width="22" height="64"/><rect x="963" y="1059" width="23" height="63"/>
<rect x="1013" y="1061" width="24" height="61"/><rect x="1037" y="915" width="23" height="207"/>
<rect x="1087" y="1061" width="24" height="61"/><rect x="1111" y="1001" width="23" height="121"/>
<rect x="1162" y="1061" width="22" height="61"/><rect x="1184" y="951" width="23" height="171"/>
</g>
<g stroke="#000" stroke-width="2" fill="none">
<path d="M929,878 V1122 M922,1122 H1248 M922,878 H929 M922,1000 H929"/>
<path d="M1021,898 H1046 M1097,979 H1121 M1167,929 H1192"/>
</g>
<g stroke="#000" stroke-width="1.3"><path d="M1049,910 V920 M1044,910 H1054 M1044,920 H1054 M1122,996 V1006 M1117,996 H1127 M1117,1006 H1127 M1195,946 V956 M1190,946 H1200 M1190,956 H1200"/></g>
<g fill="#000"><circle cx="948" cy="1053" r="5"/><circle cx="953" cy="1058" r="5"/><circle cx="958" cy="1055" r="5"/>
<circle cx="1020" cy="1058" r="5"/><circle cx="1025" cy="1062" r="5"/><circle cx="1030" cy="1061" r="5"/>
<circle cx="1093" cy="1060" r="5"/><circle cx="1099" cy="1063" r="5"/><circle cx="1104" cy="1062" r="5"/>
<circle cx="1168" cy="1058" r="5"/><circle cx="1173" cy="1063" r="5"/><circle cx="1178" cy="1060" r="5"/></g>
<g fill="#e83a3a"><circle cx="970" cy="1056" r="5"/><circle cx="976" cy="1060" r="5"/><circle cx="980" cy="1058" r="5"/>
<circle cx="1044" cy="911" r="5"/><circle cx="1051" cy="915" r="5"/><circle cx="1048" cy="919" r="5"/><circle cx="1055" cy="915" r="5"/>
<circle cx="1118" cy="997" r="5"/><circle cx="1125" cy="1001" r="5"/><circle cx="1121" cy="1005" r="5"/><circle cx="1128" cy="1000" r="5"/>
<circle cx="1190" cy="948" r="5"/><circle cx="1197" cy="952" r="5"/><circle cx="1195" cy="956" r="5"/><circle cx="1203" cy="950" r="5"/></g>
<g font-size="16">
<text x="995" y="893" textLength="80" lengthAdjust="spacingAndGlyphs">P &lt; 0.0001</text>
<text x="1071" y="973" textLength="77" lengthAdjust="spacingAndGlyphs">P = 0.0002</text>
<text x="1141" y="924" textLength="80" lengthAdjust="spacingAndGlyphs">P &lt; 0.0001</text>
</g>
<g font-size="18" text-anchor="end">
<text transform="translate(963,1150) rotate(-45)" textLength="66" lengthAdjust="spacingAndGlyphs">PHLPP2</text>
<text transform="translate(1037,1150) rotate(-45)" textLength="46" lengthAdjust="spacingAndGlyphs">PRR5</text>
<text transform="translate(1112,1146) rotate(-45)" textLength="56" lengthAdjust="spacingAndGlyphs">PRR5L</text>
<text transform="translate(1185,1146) rotate(-45)" textLength="48" lengthAdjust="spacingAndGlyphs">mTOR</text>
</g>
</g>

<!-- ===== Panel e / f histology ===== -->
<g font-size="18">
<text x="1324" y="636" textLength="188" lengthAdjust="spacingAndGlyphs">Normal endometrium</text>
<text x="1546" y="636" textLength="236" lengthAdjust="spacingAndGlyphs">Endometrial cancer (G2)</text>
<text x="1324" y="896" textLength="188" lengthAdjust="spacingAndGlyphs">Normal endometrium</text>
<text x="1546" y="896" textLength="236" lengthAdjust="spacingAndGlyphs">Endometrial cancer (G2)</text>
</g>
<clipPath id="ce1"><rect x="1304" y="645" width="234" height="175"/></clipPath>
<clipPath id="ce2"><rect x="1541" y="645" width="234" height="175"/></clipPath>
<clipPath id="cf1"><rect x="1305" y="907" width="232" height="175"/></clipPath>
<clipPath id="cf2"><rect x="1542" y="907" width="232" height="175"/></clipPath>

<!-- e1 -->
<g clip-path="url(#ce1)">
<rect x="1304" y="645" width="234" height="175" fill="#7088c8"/>
<rect x="1304" y="645" width="234" height="175" filter="url(#nz)" opacity=".8"/>
<g filter="url(#h3)">
<path d="M1300,742 C1320,715 1340,695 1372,680 C1392,670 1405,665 1412,672 C1418,685 1400,690 1385,698 C1360,712 1335,730 1310,752 Z" fill="#7d5030"/>
<path d="M1306,728 C1325,710 1345,695 1372,682" stroke="#bcd2f0" stroke-width="8" fill="none"/>
<ellipse cx="1512" cy="692" rx="28" ry="22" fill="#7d5030"/>
<path d="M1505,682 L1525,684 L1514,700 Z" fill="#dfeaf8"/>
<ellipse cx="1383" cy="733" rx="18" ry="12" fill="#6e4030"/>
<ellipse cx="1450" cy="706" rx="30" ry="16" transform="rotate(-25 1450 706)" fill="#6e4530"/>
<ellipse cx="1472" cy="752" rx="28" ry="26" fill="#7a4a2c"/>
<ellipse cx="1400" cy="785" rx="42" ry="22" fill="#7d5030"/>
<ellipse cx="1398" cy="786" rx="13" ry="6" fill="#dfeaf8"/>
</g>
<rect x="1493" y="806" width="33" height="3" fill="#000"/>
<text x="1478" y="798" font-size="19" textLength="52" lengthAdjust="spacingAndGlyphs">50 μm</text>
</g>
<rect x="1304" y="645" width="234" height="175" fill="none" stroke="#222" stroke-width="1.8"/>

<!-- e2 -->
<g clip-path="url(#ce2)">
<rect x="1541" y="645" width="234" height="175" fill="#b7b8dc"/>
<g filter="url(#h3)" fill="#d9e8f8">
<path d="M1585,700 C1600,690 1620,705 1640,700 C1650,720 1640,740 1650,760 C1665,775 1690,770 1690,790 C1670,800 1650,790 1640,800 C1625,790 1630,770 1610,760 C1595,755 1575,740 1585,700 Z"/>
<path d="M1630,645 L1660,645 L1700,700 L1740,760 L1760,820 L1745,820 L1720,770 L1690,720 Z"/>
<path d="M1541,680 C1560,670 1575,665 1585,670 L1580,690 C1565,690 1550,700 1541,710 Z"/>
<ellipse cx="1745" cy="700" rx="12" ry="10"/>
<ellipse cx="1612" cy="808" rx="14" ry="8"/>
</g>
<rect x="1541" y="645" width="234" height="175" filter="url(#nz)" opacity=".45"/>
<rect x="1731" y="806" width="33" height="3" fill="#000"/>
</g>
<rect x="1541" y="645" width="234" height="175" fill="none" stroke="#222" stroke-width="1.8"/>

<!-- f1 -->
<g clip-path="url(#cf1)">
<rect x="1305" y="907" width="232" height="175" fill="#b9b7cf"/>
<g filter="url(#h3)">
<ellipse cx="1345" cy="945" rx="22" ry="18" fill="#9c9ec8"/>
<ellipse cx="1343" cy="946" rx="9" ry="7" fill="#d4cdc4"/>
<ellipse cx="1362" cy="983" rx="20" ry="22" fill="#9fa0c8"/>
<ellipse cx="1360" cy="985" rx="8" ry="10" fill="#d4cdc4"/>
<path d="M1360,1030 C1380,1000 1420,990 1450,985 C1480,985 1510,1000 1530,1030 L1537,1082 L1470,1082 C1440,1075 1400,1065 1370,1055 Z" fill="#9fa0ca"/>
<path d="M1380,1035 C1400,1012 1440,1008 1470,1015 C1495,1022 1510,1040 1520,1065 C1490,1065 1450,1060 1420,1055 C1400,1050 1385,1045 1380,1035 Z" fill="#d8d1c6"/>
<ellipse cx="1420" cy="942" rx="14" ry="10" fill="#d0cac6"/>
</g>
<rect x="1305" y="907" width="232" height="175" filter="url(#nz)" opacity=".3"/>
<rect x="1477" y="1064" width="49" height="4" fill="#000"/>
<text x="1472" y="1057" font-size="19" textLength="50" lengthAdjust="spacingAndGlyphs">50 μm</text>
</g>
<rect x="1305" y="907" width="232" height="175" fill="none" stroke="#222" stroke-width="1.8"/>

<!-- f2 -->
<g clip-path="url(#cf2)">
<rect x="1542" y="907" width="232" height="175" fill="#8f7c8e"/>
<g filter="url(#h3)">
<path d="M1542,960 L1560,950 C1575,990 1590,1030 1610,1082 L1542,1082 Z" fill="#cdc8c3"/>
<path d="M1690,907 L1774,907 L1774,960 C1750,990 1720,980 1700,960 C1690,940 1690,920 1690,907 Z" fill="#cdc8c3"/>
<path d="M1640,1045 C1660,1060 1690,1065 1720,1082 L1660,1082 Z" fill="#cdc8c3"/>
<path d="M1690,975 C1705,985 1720,990 1730,1010" stroke="#cdc8c3" stroke-width="10" fill="none"/>
<path d="M1600,920 C1630,960 1660,1000 1700,1060" stroke="#7a5030" stroke-width="6" fill="none" opacity=".7"/>
<ellipse cx="1720" cy="1040" rx="40" ry="20" fill="#8a6040" opacity=".6"/>
<ellipse cx="1620" cy="980" rx="20" ry="30" fill="#8a6a8a" opacity=".6"/>
</g>
<rect x="1542" y="907" width="232" height="175" filter="url(#nz)" opacity=".3"/>
<rect x="1717" y="1064" width="48" height="4" fill="#000"/>
</g>
<rect x="1542" y="907" width="232" height="175" fill="none" stroke="#222" stroke-width="1.8"/>

<!-- ===== Stacked bar e ===== -->
<text transform="translate(1814,705) rotate(-90)" text-anchor="middle" font-size="18" class="m" textLength="217" lengthAdjust="spacingAndGlyphs">Proportion of samples</text>
<text x="1891" y="614" font-size="18" class="m" textLength="107" lengthAdjust="spacingAndGlyphs">P = 0.0017</text>
<g font-size="20" text-anchor="end"><text x="1862" y="629">1.0</text><text x="1862" y="721">0.5</text><text x="1862" y="811">0.0</text></g>
<rect x="1881" y="785" width="50" height="19" fill="#000"/>
<rect x="1881" y="713" width="50" height="72" fill="#2fb34a"/>
<rect x="1881" y="677" width="50" height="36" fill="#f58220"/>
<rect x="1881" y="622" width="50" height="55" fill="#e8202a"/>
<rect x="1953" y="706" width="50" height="98" fill="#000"/>
<rect x="1953" y="628" width="50" height="78" fill="#2fb34a"/>
<rect x="1953" y="622" width="50" height="6" fill="#f58220"/>
<path d="M1870,622 V804 M1863,804 H2016 M1864,622 H1870 M1864,713 H1870" stroke="#000" stroke-width="2" fill="none"/>
<rect x="2023" y="654" width="20" height="10" fill="#e8202a"/><rect x="2023" y="679" width="20" height="10" fill="#f58220"/>
<rect x="2023" y="703" width="20" height="10" fill="#2fb34a"/><rect x="2023" y="727" width="20" height="10" fill="#000"/>
<g font-size="20"><text x="2055" y="667">3</text><text x="2055" y="691">2</text><text x="2055" y="715">1</text><text x="2055" y="740">0</text></g>
<g font-size="18" text-anchor="end">
<text transform="translate(1914,818) rotate(-45)" textLength="68" lengthAdjust="spacingAndGlyphs">Normal</text>
<text transform="translate(1980,819) rotate(-45)" textLength="68" lengthAdjust="spacingAndGlyphs">Tumour</text>
</g>

<!-- ===== Stacked bar f ===== -->
<text transform="translate(1814,987) rotate(-90)" text-anchor="middle" font-size="18" class="m" textLength="217" lengthAdjust="spacingAndGlyphs">Proportion of samples</text>
<text x="1893" y="892" font-size="18" class="m" textLength="107" lengthAdjust="spacingAndGlyphs">P = 0.0491</text>
<g font-size="20" text-anchor="end"><text x="1862" y="908">1.0</text><text x="1862" y="1001">0.5</text><text x="1862" y="1094">0.0</text></g>
<rect x="1883" y="975" width="52" height="112" fill="#000"/>
<rect x="1883" y="920" width="52" height="55" fill="#2fb34a"/>
<rect x="1883" y="901" width="52" height="19" fill="#f58220"/>
<rect x="1958" y="1055" width="52" height="32" fill="#000"/>
<rect x="1958" y="957" width="52" height="98" fill="#2fb34a"/>
<rect x="1958" y="914" width="52" height="43" fill="#f58220"/>
<rect x="1958" y="901" width="52" height="13" fill="#e8202a"/>
<path d="M1871,901 V1087 M1865,1087 H2023 M1865,901 H1871 M1865,994 H1871" stroke="#000" stroke-width="2" fill="none"/>
<rect x="2025" y="933" width="20" height="10" fill="#e8202a"/><rect x="2025" y="959" width="20" height="10" fill="#f58220"/>
<rect x="2025" y="984" width="20" height="10" fill="#2fb34a"/><rect x="2025" y="1009" width="20" height="10" fill="#000"/>
<g font-size="20"><text x="2057" y="946">3</text><text x="2057" y="971">2</text><text x="2057" y="996">1</text><text x="2057" y="1021">0</text></g>
<g font-size="18" text-anchor="end">
<text transform="translate(1919,1100) rotate(-45)" textLength="68" lengthAdjust="spacingAndGlyphs">Normal</text>
<text transform="translate(1986,1103) rotate(-45)" textLength="68" lengthAdjust="spacingAndGlyphs">Tumour</text>
</g>
</svg>
</body></html>
